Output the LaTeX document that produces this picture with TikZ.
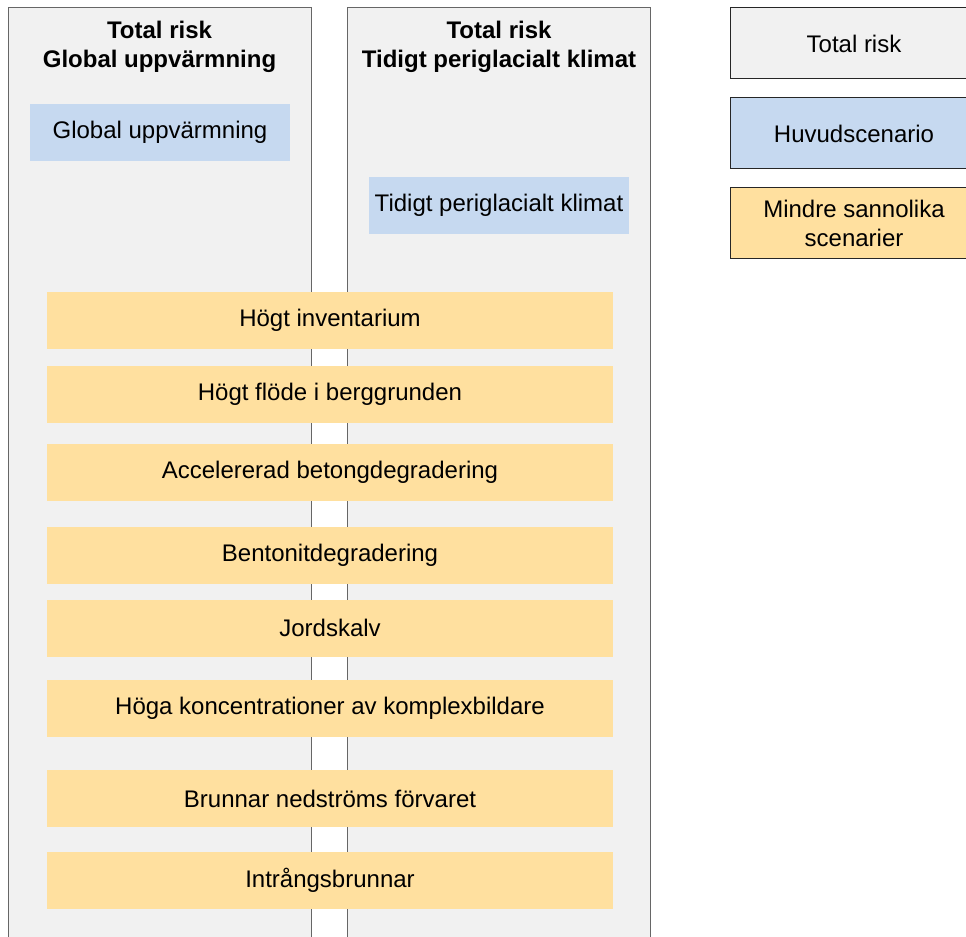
\documentclass[tikz,border=0pt]{standalone}
\usepackage{fontspec}
\setmainfont{Liberation Sans}
\usetikzlibrary{positioning}
\definecolor{PaneGray}{HTML}{F1F1F1}
\definecolor{PaneLine}{HTML}{666666}
\definecolor{MainBlue}{HTML}{C6D9F0}
\definecolor{MinorYellow}{HTML}{FFE09F}

\begin{document}
\begin{tikzpicture}[x=.75pt,y=-.75pt,
    every node/.style={font=\fontsize{18}{21.75}\selectfont,align=center,inner sep=0pt},
    pane/.style={draw=PaneLine,line width=.75pt,fill=PaneGray,minimum width=227.25pt,minimum height=714pt},
    title/.style={font=\fontsize{18}{21.75}\selectfont\bfseries},
    mainsc/.style={fill=MainBlue,minimum width=195pt,minimum height=42.75pt},
    minorsc/.style={fill=MinorYellow,minimum width=424.5pt,minimum height=42.75pt},
    legend/.style={draw=black!85,line width=.75pt,minimum width=186pt,minimum height=53.25pt}]
        \clip(0,0)rectangle(966,937);
        % the two total-risk panes (open at the bottom)
        \node[pane](paneGU)at(159.5,484){};
        \node[pane](panePG)at(499,484){};
        \node[title](titleGU)at(159.5,46.5){Total risk\\Global uppvärmning};
        \node[title](titlePG)at(499,46.5){Total risk\\Tidigt periglacialt klimat};
        % main scenarios
        \node[mainsc](mainGU)at(160,132.5){Global uppvärmning};
        \node[mainsc](mainPG)at(499,205.5){Tidigt periglacialt klimat};
        % less likely scenarios
        \foreach \n/\y/\txt in {1/320.5/Högt inventarium,2/394.5/Högt flöde i berggrunden,
            3/472.5/Accelererad betongdegradering,4/555.5/Bentonitdegradering,
            5/628/Jordskalv,6/708.5/Höga koncentrationer av komplexbildare,
            7/798.5/Brunnar nedströms förvaret,8/880.5/Intrångsbrunnar}
            \node[minorsc](minor\n)at(330,\y){\txt};
        % legend
        \node[legend,fill=PaneGray](legTotal)at(854,43.5){Total risk};
        \node[legend,fill=MainBlue](legMain)at(854,133.5){Huvudscenario};
        \node[legend,fill=MinorYellow](legMinor)at(854,223){Mindre sannolika\\scenarier};
      \end{tikzpicture}
\end{document}
